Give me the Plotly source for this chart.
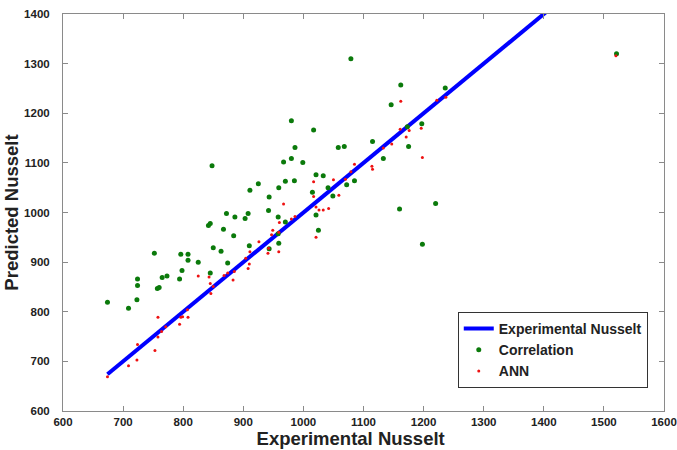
import plotly.graph_objects as go

# Correlation predictions (green)
corr_x = [674, 709, 724, 724, 723, 752, 757, 760, 765, 773, 796, 794, 798, 808, 808, 825,
          842, 845, 845, 848, 872, 886, 903, 908, 867, 884, 850, 863, 910, 874, 911, 925,
          942, 943, 943, 958, 958, 959, 959, 967, 970, 985, 970, 980, 980, 986, 999, 1015,
          1017, 1021, 1021, 1025, 1033, 1041, 1049, 1058, 1068, 1072, 1079, 1085, 1115,
          1133, 1146, 1160, 1162, 1173, 1175, 1197, 1198, 1220, 1236, 1521]
corr_y = [819, 807, 866, 853, 824, 918, 847, 849, 869, 872, 916, 866, 883, 916, 904, 900,
          974, 978, 878, 1094, 998, 991, 988, 998, 966, 953, 929, 922, 933, 898, 1045, 1058,
          1004, 1031, 927, 991, 957, 938, 1050, 1102, 1063, 1064, 981, 1185, 1109, 1131, 1101, 1041,
          1166, 1076, 995, 964, 1074, 1050, 1033, 1131, 1133, 1056, 1310, 1064, 1143,
          1109, 1217, 1007, 1257, 1173, 1133, 1179, 936, 1018, 1251, 1320]

# ANN predictions (red)
ann_x = [674, 709, 723, 724, 753, 758, 758, 764, 771, 794, 796, 799, 808, 807, 825, 843,
         845, 846, 850, 868, 874, 883, 885, 904, 908, 910, 911, 926, 941, 942, 947, 949,
         959, 959, 960, 967, 980, 986, 1017, 1017, 1021, 1021, 1026, 1033, 1042, 1050,
         1059, 1070, 1079, 1085, 1114, 1115, 1133, 1147, 1161, 1162, 1171, 1176, 1196,
         1198, 1222, 1237, 1520]
ann_y = [669, 691, 703, 734, 722, 789, 749, 760, 770, 775, 789, 790, 789, 804, 872, 870,
         857, 837, 851, 873, 878, 864, 881, 908, 887, 896, 921, 941, 918, 928, 955, 964,
         921, 960, 980, 1017, 987, 992, 1032, 1062, 1011, 950, 1005, 1005, 1008, 1066,
         1035, 1067, 1082, 1097, 1093, 1087, 1130, 1138, 1168, 1224, 1152, 1165, 1170,
         1111, 1226, 1232, 1316]

# Experimental (y = x reference line)
exp_x = [674, 1521]
exp_y = [674, 1521]

x_ticks = [600, 700, 800, 900, 1000, 1100, 1200, 1300, 1400, 1500, 1600]
y_ticks = [600, 700, 800, 900, 1000, 1100, 1200, 1300, 1400]

FONT = "Liberation Sans, Arial, sans-serif"

fig = go.Figure()
fig.add_trace(go.Scatter(x=exp_x, y=exp_y, mode="lines", name="<b>Experimental Nusselt</b>",
                         line=dict(color="#0000ff", width=4)))
fig.add_trace(go.Scatter(x=corr_x, y=corr_y, mode="markers", name="<b>Correlation</b>",
                         marker=dict(color="#0b7a0b", size=5)))
fig.add_trace(go.Scatter(x=ann_x, y=ann_y, mode="markers", name="<b>ANN</b>",
                         marker=dict(color="#ee1111", size=3)))

axis_common = dict(showgrid=False, zeroline=False, showline=True, linecolor="#8a8a8a",
                   linewidth=1, mirror="ticks", ticks="inside", ticklen=5, tickcolor="#8a8a8a",
                   automargin=False,
                   tickfont=dict(family=FONT, size=11.5, color="#222222"))

fig.update_xaxes(range=[600, 1600], tickvals=x_ticks, ticktext=[f"<b>{v}</b>" for v in x_ticks],
                 title=dict(text="<b>Experimental Nusselt</b>" + "&nbsp;" * 5,
                            font=dict(family=FONT, size=18.5, color="#222222"),
                            standoff=0),
                 **axis_common)
fig.update_yaxes(range=[600, 1400], tickvals=y_ticks, ticktext=[f"<b>{v}</b>" for v in y_ticks],
                 title=dict(text="<b>Predicted Nusselt</b>", font=dict(family=FONT, size=18.5, color="#222222"),
                            standoff=0),
                 ticklabelstandoff=10,
                 **axis_common)

fig.update_layout(
    width=677, height=450,
    margin=dict(l=63, r=13, t=14, b=39),
    paper_bgcolor="white", plot_bgcolor="white",
    showlegend=True,
    legend=dict(x=0.973, y=0.058, xanchor="right", yanchor="bottom",
                bordercolor="#333333", borderwidth=1, bgcolor="white",
                font=dict(family=FONT, size=14, color="#222222"),
                tracegroupgap=0, itemwidth=30),
)

fig.write_html("out.html")
